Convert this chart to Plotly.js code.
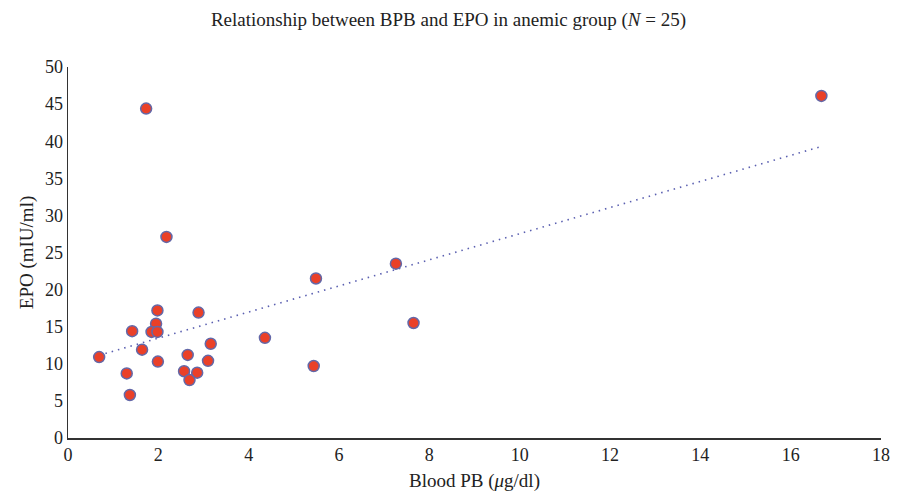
<!DOCTYPE html>
<html>
<head>
<meta charset="utf-8">
<script src="https://cdn.plot.ly/plotly-3.0.1.min.js"></script>
<style>html,body{margin:0;padding:0;background:#fff;}#chart{width:897px;height:499px;}</style>
</head>
<body>
<div id="chart"></div>
<script>
const bloodPb = [0.69,1.30,1.37,1.42,1.64,1.98,1.95,1.85,1.98,1.99,2.89,2.65,2.57,2.86,2.69,3.16,3.10,1.73,2.18,4.36,5.49,5.44,7.26,7.65,16.68];
const epo = [10.9,8.7,5.8,14.4,11.9,17.2,15.4,14.3,14.3,10.3,16.9,11.2,9.0,8.8,7.8,12.7,10.4,44.4,27.1,13.5,21.5,9.7,23.5,15.5,46.1];
const xTicks = [0,2,4,6,8,10,12,14,16,18];
const yTicks = [0,5,10,15,20,25,30,35,40,45,50];

// Linear least-squares trendline
const n = bloodPb.length;
const mx = bloodPb.reduce((a,b)=>a+b,0)/n;
const my = epo.reduce((a,b)=>a+b,0)/n;
let sxy=0, sxx=0;
for (let i=0;i<n;i++){ sxy += (bloodPb[i]-mx)*(epo[i]-my); sxx += (bloodPb[i]-mx)**2; }
const slope = sxy/sxx, icpt = my - slope*mx;
const xmin = Math.min(...bloodPb), xmax = Math.max(...bloodPb);
const trendX = [xmin, xmax];
const trendY = trendX.map(x => icpt + slope*x);

const font = "'Liberation Serif','DejaVu Serif',serif";
const data = [
  {x: trendX, y: trendY, mode:'lines', type:'scatter',
   line:{color:'#5a5fb0', width:1.6, dash:'1.5px,5px'}, hoverinfo:'skip'},
  {x: bloodPb, y: epo, mode:'markers', type:'scatter',
   marker:{size:11, color:'#ea4028', line:{color:'#6368a8', width:1.5}}}
];
const layout = {
  width:897, height:499,
  margin:{l:68, r:16, t:67, b:61},
  showlegend:false,
  paper_bgcolor:'#fff', plot_bgcolor:'#fff',
  font:{family:font, color:'#222', size:18},
  title:{text:'Relationship between BPB and EPO in anemic group (<i>N</i> = 25)', x:0.5, xanchor:'center', y:0.962, yanchor:'middle', font:{family:font, size:19, color:'#222'}},
  xaxis:{range:[0,18], tickvals:xTicks, ticktext:xTicks.map(String), showgrid:false, zeroline:false,
    showline:true, linecolor:'#333', linewidth:1.5, ticks:'', ticklen:0,
    tickfont:{family:font, size:18, color:'#222'},
    title:{text:'Blood PB (<i>μ</i>g/dl)', font:{family:font, size:19, color:'#222'}, standoff:9}},
  yaxis:{range:[0,50], tickvals:yTicks, ticktext:yTicks.map(String), showgrid:false, zeroline:false,
    showline:true, linecolor:'#333', linewidth:1.5, ticks:'', ticklen:0,
    tickfont:{family:font, size:18, color:'#222'},
    title:{text:'EPO (mIU/ml)', font:{family:font, size:19, color:'#222'}, standoff:6}}
};
Plotly.newPlot('chart', data, layout, {displayModeBar:false, staticPlot:true});
</script>
</body>
</html>
